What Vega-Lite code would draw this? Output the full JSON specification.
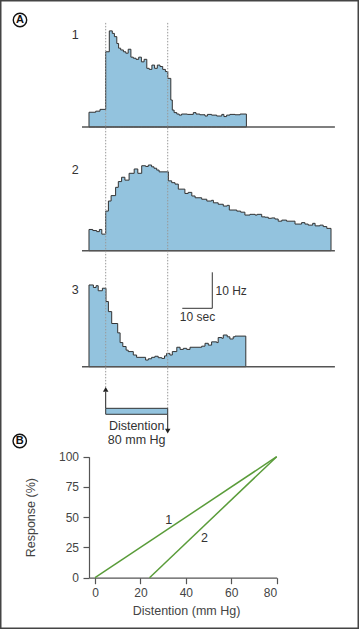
{
  "$schema": "https://vega.github.io/schema/vega-lite/v6.json",
  "width": 359,
  "height": 629,
  "padding": 0,
  "autosize": {"type": "none"},
  "background": "white",
  "config": {
    "view": {"stroke": "#444", "strokeWidth": 3},
    "font": "Liberation Sans",
    "text": {"font": "Liberation Sans", "color": "#333"}
  },
  "datasets": {
    "trace1": [
      {"t": -5.57, "hz": 4.1}, {"t": -3.33, "hz": 4.4}, {"t": -1.9, "hz": 4.9}, {"t": 0, "hz": 20.9},
      {"t": 1.2, "hz": 26.7}, {"t": 2.2, "hz": 26.0}, {"t": 2.9, "hz": 25.1}, {"t": 3.7, "hz": 23.2},
      {"t": 4.3, "hz": 21.9}, {"t": 5.0, "hz": 21.4}, {"t": 5.9, "hz": 20.9}, {"t": 6.7, "hz": 20.5},
      {"t": 7.5, "hz": 21.6}, {"t": 8.4, "hz": 19.4}, {"t": 9.2, "hz": 19.1}, {"t": 10.1, "hz": 18.8},
      {"t": 11.0, "hz": 19.4}, {"t": 11.9, "hz": 18.1}, {"t": 12.8, "hz": 18.8}, {"t": 13.7, "hz": 16.3},
      {"t": 14.5, "hz": 16.0}, {"t": 15.4, "hz": 17.2}, {"t": 16.3, "hz": 16.3}, {"t": 17.2, "hz": 17.2},
      {"t": 18.1, "hz": 16.8}, {"t": 19.0, "hz": 16.0}, {"t": 19.9, "hz": 15.4}, {"t": 20.7, "hz": 13.5},
      {"t": 21.7, "hz": 7.5}, {"t": 22.2, "hz": 4.7}, {"t": 22.8, "hz": 4.0}, {"t": 23.7, "hz": 3.6},
      {"t": 24.5, "hz": 3.3}, {"t": 25.3, "hz": 3.6}, {"t": 27.2, "hz": 3.5}, {"t": 29.2, "hz": 4.0},
      {"t": 30.1, "hz": 3.6}, {"t": 31.4, "hz": 3.4}, {"t": 33.1, "hz": 3.05}, {"t": 33.9, "hz": 3.5},
      {"t": 35.3, "hz": 3.3}, {"t": 37.0, "hz": 3.05}, {"t": 38.7, "hz": 3.5}, {"t": 39.4, "hz": 2.9},
      {"t": 40.3, "hz": 3.3}, {"t": 41.4, "hz": 3.5}, {"t": 43.1, "hz": 3.4}, {"t": 44.8, "hz": 3.6},
      {"t": 46.9, "hz": 3.6}
    ],
    "trace2": [
      {"t": -5.57, "hz": 5.9}, {"t": -4.3, "hz": 5.6}, {"t": -3.0, "hz": 5.3}, {"t": -2.1, "hz": 5.9},
      {"t": -1.3, "hz": 4.6}, {"t": 0, "hz": 11.0}, {"t": 0.9, "hz": 13.8}, {"t": 1.8, "hz": 15.3},
      {"t": 3.3, "hz": 17.6}, {"t": 4.2, "hz": 19.2}, {"t": 5.3, "hz": 20.4}, {"t": 6.4, "hz": 19.6},
      {"t": 7.8, "hz": 21.5}, {"t": 9.5, "hz": 22.7}, {"t": 10.7, "hz": 21.5}, {"t": 12.0, "hz": 23.6},
      {"t": 13.3, "hz": 23.4}, {"t": 14.2, "hz": 23.8}, {"t": 15.3, "hz": 23.3}, {"t": 16.1, "hz": 22.9},
      {"t": 17.0, "hz": 22.4}, {"t": 17.8, "hz": 21.9}, {"t": 20.9, "hz": 19.4}, {"t": 22.0, "hz": 18.9},
      {"t": 23.1, "hz": 18.5}, {"t": 24.2, "hz": 17.1}, {"t": 26.4, "hz": 15.9}, {"t": 27.5, "hz": 16.2},
      {"t": 28.7, "hz": 15.2}, {"t": 29.8, "hz": 14.7}, {"t": 32.0, "hz": 14.3}, {"t": 33.7, "hz": 13.8},
      {"t": 35.3, "hz": 14.0}, {"t": 35.9, "hz": 13.3}, {"t": 37.5, "hz": 12.9}, {"t": 39.2, "hz": 12.4},
      {"t": 40.5, "hz": 12.6}, {"t": 41.2, "hz": 11.3}, {"t": 43.7, "hz": 11.0}, {"t": 45.0, "hz": 10.7},
      {"t": 46.4, "hz": 9.9}, {"t": 48.1, "hz": 10.1}, {"t": 49.8, "hz": 9.9}, {"t": 50.5, "hz": 10.1},
      {"t": 52.0, "hz": 9.4}, {"t": 53.1, "hz": 9.3}, {"t": 54.2, "hz": 9.0}, {"t": 55.3, "hz": 9.1},
      {"t": 56.4, "hz": 8.8}, {"t": 57.5, "hz": 8.2}, {"t": 58.7, "hz": 8.5}, {"t": 60.3, "hz": 8.2},
      {"t": 63.1, "hz": 7.4}, {"t": 65.3, "hz": 7.8}, {"t": 66.4, "hz": 7.4}, {"t": 67.5, "hz": 7.1},
      {"t": 69.0, "hz": 7.6}, {"t": 69.8, "hz": 6.9}, {"t": 71.4, "hz": 7.1}, {"t": 72.5, "hz": 6.7},
      {"t": 73.7, "hz": 6.2}, {"t": 75.1, "hz": 6.2}
    ],
    "trace3": [
      {"t": -5.57, "hz": 22.7}, {"t": -4.1, "hz": 22.0}, {"t": -3.2, "hz": 22.5}, {"t": -2.5, "hz": 21.1},
      {"t": -1.1, "hz": 21.8}, {"t": 0.1, "hz": 18.1}, {"t": 0.9, "hz": 15.3}, {"t": 2.0, "hz": 12.0},
      {"t": 4.0, "hz": 9.4}, {"t": 4.8, "hz": 6.7}, {"t": 5.7, "hz": 5.6}, {"t": 6.8, "hz": 4.6},
      {"t": 7.5, "hz": 4.2}, {"t": 9.2, "hz": 3.25}, {"t": 10.3, "hz": 2.6}, {"t": 13.3, "hz": 1.85},
      {"t": 14.2, "hz": 2.2}, {"t": 15.3, "hz": 2.6}, {"t": 16.4, "hz": 2.9}, {"t": 17.5, "hz": 2.5},
      {"t": 18.7, "hz": 2.3}, {"t": 19.6, "hz": 3.0}, {"t": 20.3, "hz": 3.7}, {"t": 21.4, "hz": 3.25},
      {"t": 22.2, "hz": 4.2}, {"t": 23.7, "hz": 5.4}, {"t": 24.8, "hz": 4.8}, {"t": 25.9, "hz": 5.1},
      {"t": 27.0, "hz": 4.8}, {"t": 28.1, "hz": 5.4}, {"t": 32.0, "hz": 5.7}, {"t": 33.1, "hz": 6.5},
      {"t": 34.2, "hz": 6.0}, {"t": 35.3, "hz": 6.9}, {"t": 37.0, "hz": 6.7}, {"t": 37.5, "hz": 8.1},
      {"t": 38.7, "hz": 7.9}, {"t": 39.2, "hz": 8.8}, {"t": 40.5, "hz": 8.3}, {"t": 41.4, "hz": 7.7},
      {"t": 42.5, "hz": 8.3}, {"t": 43.1, "hz": 8.5}, {"t": 46.7, "hz": 8.5}
    ],
    "response": [
      {"distention": 0, "response": 0, "curve": "1"},
      {"distention": 80, "response": 100, "curve": "1"},
      {"distention": 24, "response": 0, "curve": "2"},
      {"distention": 80, "response": 100, "curve": "2"}
    ]
  },
  "layer": [
    {
      "layer": [
        {
          "data": {"name": "trace1"},
          "mark": {"type": "area", "interpolate": "step-after", "fill": "#93c3de", "stroke": "#333", "strokeWidth": 1},
          "encoding": {
            "x": {"field": "t", "type": "quantitative", "scale": {"domain": [-35.233, 84.433], "nice": false, "zero": false}, "axis": null},
            "y": {"field": "hz", "type": "quantitative", "scale": {"domain": [0, 30], "range": [127, 19], "nice": false, "zero": false}, "axis": null}
          }
        },
        {
          "data": {"values": [{}]},
          "mark": {"type": "rule", "stroke": "#555", "strokeWidth": 1.5},
          "encoding": {
            "x": {"datum": -7.9, "type": "quantitative"},
            "x2": {"datum": 76.4},
            "y": {"datum": 0, "type": "quantitative"}
          }
        },
        {
          "data": {"values": [{}]},
          "mark": {"type": "text", "fontSize": 12.5, "align": "center", "baseline": "middle"},
          "encoding": {
            "x": {"datum": -10.2, "type": "quantitative"},
            "y": {"datum": 25.6, "type": "quantitative"},
            "text": {"value": "1"}
          }
        }
      ]
    },
    {
      "layer": [
        {
          "data": {"name": "trace2"},
          "mark": {"type": "area", "interpolate": "step-after", "fill": "#93c3de", "stroke": "#333", "strokeWidth": 1},
          "encoding": {
            "x": {"field": "t", "type": "quantitative", "scale": {"domain": [-35.233, 84.433], "nice": false, "zero": false}, "axis": null},
            "y": {"field": "hz", "type": "quantitative", "scale": {"domain": [0, 30], "range": [250.7, 142.7], "nice": false, "zero": false}, "axis": null}
          }
        },
        {
          "data": {"values": [{}]},
          "mark": {"type": "rule", "stroke": "#555", "strokeWidth": 1.5},
          "encoding": {
            "x": {"datum": -7.9, "type": "quantitative"},
            "x2": {"datum": 76.4},
            "y": {"datum": 0, "type": "quantitative"}
          }
        },
        {
          "data": {"values": [{}]},
          "mark": {"type": "text", "fontSize": 12.5, "align": "center", "baseline": "middle"},
          "encoding": {
            "x": {"datum": -10.2, "type": "quantitative"},
            "y": {"datum": 22.4, "type": "quantitative"},
            "text": {"value": "2"}
          }
        }
      ]
    },
    {
      "layer": [
        {
          "data": {"name": "trace3"},
          "mark": {"type": "area", "interpolate": "step-after", "fill": "#93c3de", "stroke": "#333", "strokeWidth": 1},
          "encoding": {
            "x": {"field": "t", "type": "quantitative", "scale": {"domain": [-35.233, 84.433], "nice": false, "zero": false}, "axis": null},
            "y": {"field": "hz", "type": "quantitative", "scale": {"domain": [0, 30], "range": [366.7, 258.7], "nice": false, "zero": false}, "axis": null}
          }
        },
        {
          "data": {"values": [{}]},
          "mark": {"type": "rule", "stroke": "#555", "strokeWidth": 1.5},
          "encoding": {
            "x": {"datum": -7.9, "type": "quantitative"},
            "x2": {"datum": 76.4},
            "y": {"datum": 0, "type": "quantitative"}
          }
        },
        {
          "data": {"values": [{}]},
          "mark": {"type": "text", "fontSize": 12.5, "align": "center", "baseline": "middle"},
          "encoding": {
            "x": {"datum": -10.2, "type": "quantitative"},
            "y": {"datum": 21.3, "type": "quantitative"},
            "text": {"value": "3"}
          }
        },
        {
          "data": {"values": [{}]},
          "mark": {"type": "rule", "stroke": "#999", "strokeWidth": 1, "strokeDash": [1.5, 1.5]},
          "encoding": {
            "x": {"datum": 0, "type": "quantitative"},
            "y": {"datum": 95.5, "type": "quantitative"},
            "y2": {"datum": -5.9}
          }
        },
        {
          "data": {"values": [{}]},
          "mark": {"type": "rule", "stroke": "#999", "strokeWidth": 1, "strokeDash": [1.5, 1.5]},
          "encoding": {
            "x": {"datum": 20.67, "type": "quantitative"},
            "y": {"datum": 95.5, "type": "quantitative"},
            "y2": {"datum": -11.56}
          }
        },
        {
          "data": {"values": [{}]},
          "mark": {"type": "rule", "stroke": "#222", "strokeWidth": 1},
          "encoding": {
            "x": {"datum": 0, "type": "quantitative"},
            "y": {"datum": -7.0, "type": "quantitative"},
            "y2": {"datum": -11.56}
          }
        },
        {
          "data": {"values": [{}]},
          "mark": {"type": "rule", "stroke": "#222", "strokeWidth": 1},
          "encoding": {
            "x": {"datum": 20.67, "type": "quantitative"},
            "y": {"datum": -13.22, "type": "quantitative"},
            "y2": {"datum": -17.4}
          }
        },
        {
          "data": {"values": [{}]},
          "mark": {"type": "point", "shape": "triangle-up", "filled": true, "color": "#222", "size": 30, "opacity": 1},
          "encoding": {
            "x": {"datum": 0, "type": "quantitative"},
            "y": {"datum": -6.3, "type": "quantitative"}
          }
        },
        {
          "data": {"values": [{}]},
          "mark": {"type": "point", "shape": "triangle-down", "filled": true, "color": "#222", "size": 30, "opacity": 1},
          "encoding": {
            "x": {"datum": 20.67, "type": "quantitative"},
            "y": {"datum": -17.9, "type": "quantitative"}
          }
        },
        {
          "data": {"values": [{}]},
          "mark": {"type": "rect", "fill": "#93c3de", "stroke": "#333", "strokeWidth": 1},
          "encoding": {
            "x": {"datum": 0, "type": "quantitative"},
            "x2": {"datum": 20.67},
            "y": {"datum": -11.56, "type": "quantitative"},
            "y2": {"datum": -13.22}
          }
        },
        {
          "data": {"values": [{}]},
          "mark": {"type": "text", "fontSize": 12.5, "align": "center", "baseline": "middle"},
          "encoding": {
            "x": {"datum": 10.33, "type": "quantitative"},
            "y": {"datum": -16.4, "type": "quantitative"},
            "text": {"value": "Distention"}
          }
        },
        {
          "data": {"values": [{}]},
          "mark": {"type": "text", "fontSize": 12.5, "align": "center", "baseline": "middle"},
          "encoding": {
            "x": {"datum": 10.33, "type": "quantitative"},
            "y": {"datum": -20.36, "type": "quantitative"},
            "text": {"value": "80 mm Hg"}
          }
        },
        {
          "data": {"values": [{}]},
          "mark": {"type": "rule", "stroke": "#333", "strokeWidth": 1},
          "encoding": {
            "x": {"datum": 25.53, "type": "quantitative"},
            "x2": {"datum": 35.53},
            "y": {"datum": 16.22, "type": "quantitative"}
          }
        },
        {
          "data": {"values": [{}]},
          "mark": {"type": "rule", "stroke": "#333", "strokeWidth": 1},
          "encoding": {
            "x": {"datum": 35.53, "type": "quantitative"},
            "y": {"datum": 16.22, "type": "quantitative"},
            "y2": {"datum": 26.22}
          }
        },
        {
          "data": {"values": [{}]},
          "mark": {"type": "text", "fontSize": 12, "align": "left", "baseline": "middle"},
          "encoding": {
            "x": {"datum": 36.6, "type": "quantitative"},
            "y": {"datum": 21.0, "type": "quantitative"},
            "text": {"value": "10 Hz"}
          }
        },
        {
          "data": {"values": [{}]},
          "mark": {"type": "text", "fontSize": 12, "align": "left", "baseline": "middle"},
          "encoding": {
            "x": {"datum": 24.7, "type": "quantitative"},
            "y": {"datum": 13.9, "type": "quantitative"},
            "text": {"value": "10 sec"}
          }
        },
        {
          "data": {"values": [{}]},
          "mark": {"type": "point", "shape": "circle", "filled": false, "stroke": "#111", "strokeWidth": 1.4, "size": 180, "opacity": 1},
          "encoding": {
            "x": {"datum": -28.57, "type": "quantitative"},
            "y": {"datum": 96.3, "type": "quantitative"}
          }
        },
        {
          "data": {"values": [{}]},
          "mark": {"type": "text", "fontSize": 11, "fontWeight": "bold", "align": "center", "baseline": "middle", "color": "#111"},
          "encoding": {
            "x": {"datum": -28.57, "type": "quantitative"},
            "y": {"datum": 96.3, "type": "quantitative"},
            "text": {"value": "A"}
          }
        }
      ]
    },
    {
      "layer": [
        {
          "data": {"name": "response"},
          "mark": {"type": "line", "color": "#5a9c3a", "strokeWidth": 1.5},
          "encoding": {
            "x": {
              "field": "distention", "type": "quantitative",
              "scale": {"domain": [-2.65, 80], "range": [89, 276.7], "nice": false, "zero": false},
              "axis": {
                "orient": "bottom", "offset": -51.3, "values": [0, 20, 40, 60, 80],
                "title": "Distention (mm Hg)", "titleX": 186, "titlePadding": 6,
                "grid": false, "domainColor": "#555", "domainWidth": 1.2, "tickColor": "#555", "tickSize": 6, "tickWidth": 1.2,
                "labelPadding": 4, "labelFontSize": 12, "labelColor": "#444", "labelFont": "Liberation Sans",
                "titleFontSize": 12.5, "titleFontWeight": "normal", "titleColor": "#444", "titleFont": "Liberation Sans"
              }
            },
            "y": {
              "field": "response", "type": "quantitative",
              "scale": {"domain": [0, 100], "range": [577.7, 456.7], "nice": false, "zero": false},
              "axis": {
                "orient": "left", "offset": -89, "values": [0, 25, 50, 75, 100],
                "title": "Response (%)", "titlePadding": 21,
                "grid": false, "domainColor": "#555", "domainWidth": 1.2, "tickColor": "#555", "tickSize": 6, "tickWidth": 1.2,
                "labelPadding": 4.5, "labelFontSize": 12, "labelColor": "#444", "labelFont": "Liberation Sans",
                "titleFontSize": 12.5, "titleFontWeight": "normal", "titleColor": "#444", "titleFont": "Liberation Sans"
              }
            },
            "detail": {"field": "curve", "type": "nominal"}
          }
        },
        {
          "data": {"values": [{}]},
          "mark": {"type": "text", "fontSize": 12.5, "align": "center", "baseline": "middle"},
          "encoding": {
            "x": {"datum": 32.4, "type": "quantitative"},
            "y": {"datum": 47.9, "type": "quantitative"},
            "text": {"value": "1"}
          }
        },
        {
          "data": {"values": [{}]},
          "mark": {"type": "text", "fontSize": 12.5, "align": "center", "baseline": "middle"},
          "encoding": {
            "x": {"datum": 48.2, "type": "quantitative"},
            "y": {"datum": 32.4, "type": "quantitative"},
            "text": {"value": "2"}
          }
        },
        {
          "data": {"values": [{}]},
          "mark": {"type": "point", "shape": "circle", "filled": false, "stroke": "#111", "strokeWidth": 1.4, "size": 180, "opacity": 1},
          "encoding": {
            "x": {"datum": -33.15, "type": "quantitative"},
            "y": {"datum": 113.0, "type": "quantitative"}
          }
        },
        {
          "data": {"values": [{}]},
          "mark": {"type": "text", "fontSize": 11, "fontWeight": "bold", "align": "center", "baseline": "middle", "color": "#111"},
          "encoding": {
            "x": {"datum": -33.15, "type": "quantitative"},
            "y": {"datum": 113.0, "type": "quantitative"},
            "text": {"value": "B"}
          }
        }
      ]
    }
  ],
  "resolve": {"scale": {"x": "independent", "y": "independent"}}
}
